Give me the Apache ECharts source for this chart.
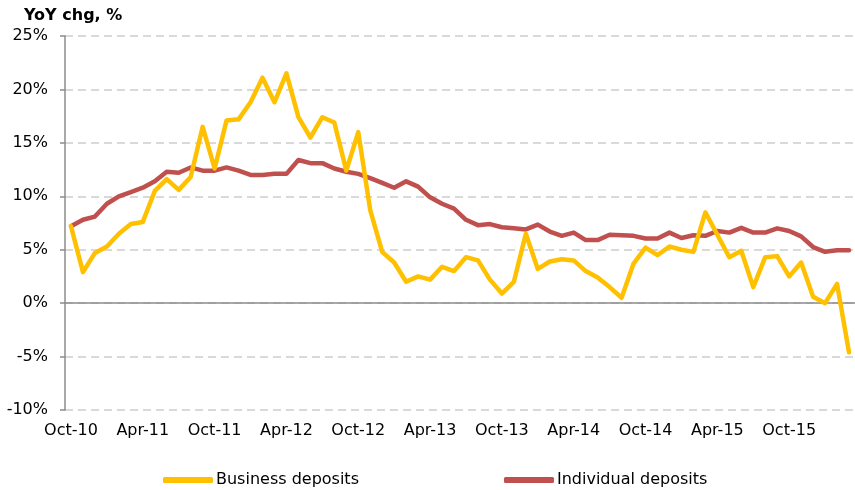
<!DOCTYPE html>
<html>
<head>
<meta charset="utf-8">
<script src="https://cdn.jsdelivr.net/npm/echarts@6/dist/echarts.min.js"></script>
<style>
  html, body { margin: 0; padding: 0; background: #fff; }
  #chart { width: 855px; height: 490px; }
</style>
</head>
<body>
<div id="chart"></div>
<script>
// months, Oct-10 .. Mar-16
const months = [
  'Oct-10', 'Nov-10', 'Dec-10', 'Jan-11', 'Feb-11', 'Mar-11', 'Apr-11', 'May-11', 'Jun-11', 'Jul-11', 'Aug-11', 'Sep-11',
  'Oct-11', 'Nov-11', 'Dec-11', 'Jan-12', 'Feb-12', 'Mar-12', 'Apr-12', 'May-12', 'Jun-12', 'Jul-12', 'Aug-12', 'Sep-12',
  'Oct-12', 'Nov-12', 'Dec-12', 'Jan-13', 'Feb-13', 'Mar-13', 'Apr-13', 'May-13', 'Jun-13', 'Jul-13', 'Aug-13', 'Sep-13',
  'Oct-13', 'Nov-13', 'Dec-13', 'Jan-14', 'Feb-14', 'Mar-14', 'Apr-14', 'May-14', 'Jun-14', 'Jul-14', 'Aug-14', 'Sep-14',
  'Oct-14', 'Nov-14', 'Dec-14', 'Jan-15', 'Feb-15', 'Mar-15', 'Apr-15', 'May-15', 'Jun-15', 'Jul-15', 'Aug-15', 'Sep-15',
  'Oct-15', 'Nov-15', 'Dec-15', 'Jan-16', 'Feb-16', 'Mar-16'
]

// YoY change, %
const businessDeposits = [
  7.2, 2.9, 4.7, 5.3, 6.5, 7.4, 7.6, 10.5, 11.6, 10.6, 11.8, 16.5,
  12.6, 17.1, 17.2, 18.8, 21.1, 18.8, 21.5, 17.4, 15.5, 17.4, 16.9, 12.4,
  16.0, 8.7, 4.8, 3.8, 2.0, 2.5, 2.2, 3.4, 3.0, 4.3, 4.0, 2.2,
  0.9, 2.0, 6.5, 3.2, 3.9, 4.1, 4.0, 3.0, 2.4, 1.5, 0.5, 3.7,
  5.2, 4.5, 5.3, 5.0, 4.8, 8.5, 6.4, 4.3, 4.9, 1.5, 4.3, 4.4,
  2.5, 3.8, 0.6, 0.0, 1.8, -4.6
]

const individualDeposits = [
  7.2, 7.8, 8.1, 9.3, 10.0, 10.4, 10.8, 11.4, 12.3, 12.2, 12.7, 12.4,
  12.4, 12.7, 12.4, 12.0, 12.0, 12.1, 12.1, 13.4, 13.1, 13.1, 12.6, 12.3,
  12.1, 11.7, 11.25, 10.8, 11.4, 10.9, 9.9, 9.3, 8.85, 7.8, 7.3, 7.4,
  7.1, 7.0, 6.9, 7.35, 6.7, 6.3, 6.6, 5.9, 5.9, 6.4, 6.35, 6.3,
  6.05, 6.05, 6.6, 6.1, 6.35, 6.3, 6.75, 6.6, 7.05, 6.6, 6.6, 7.0,
  6.75, 6.25, 5.25, 4.8, 4.95, 4.95
]

const font = 'DejaVu Sans'
const chart = echarts.init(document.getElementById('chart'))

const option = {
  backgroundColor: '#fff',
  animation: false,
  title: {
    text: 'YoY chg, %',
    left: 19,
    top: 3,
    textStyle: { fontFamily: font, fontSize: 16, fontWeight: 'bold', color: '#000' }
  },
  legend: {
    left: 158,
    top: 467,
    itemWidth: 50,
    itemHeight: 6,
    itemGap: 145,
    icon: 'roundRect',
    textStyle: { fontFamily: font, fontSize: 16, color: '#000', padding: [0, 0, 0, -2] },
    data: ['Business deposits', 'Individual deposits']
  },
  grid: {
    left: 65,
    right: -2,
    top: 36,
    bottom: 80
  },
  xAxis: {
    type: 'category',
    data: months,
    boundaryGap: true,
    axisLine: { onZero: true, lineStyle: { color: '#8c8c8c', width: 1.5 } },
    axisTick: { interval: 5, length: 5, lineStyle: { color: '#8c8c8c', width: 1.5 } },
    axisLabel: {
      interval: 5,
      margin: 13,
      fontFamily: font,
      fontSize: 16,
      color: '#000'
    },
    splitLine: { show: false }
  },
  yAxis: {
    type: 'value',
    min: -10,
    max: 25,
    interval: 5,
    axisLine: { show: true, lineStyle: { color: '#8c8c8c', width: 1.5 } },
    axisTick: { show: true, length: 5, lineStyle: { color: '#8c8c8c', width: 1.5 } },
    axisLabel: {
      formatter: '{value}%',
      margin: 17,
      fontFamily: font,
      fontSize: 16,
      color: '#000'
    },
    splitLine: {
      lineStyle: { color: '#d9d9d9', width: 2, type: [8, 5] }
    }
  },
  series: [
    {
      name: 'Business deposits',
      type: 'line',
      data: businessDeposits,
      showSymbol: false,
      symbol: 'none',
      color: '#ffc000',
      lineStyle: { width: 4.5, color: '#ffc000', cap: 'round', join: 'round' },
      z: 3
    },
    {
      name: 'Individual deposits',
      type: 'line',
      data: individualDeposits,
      showSymbol: false,
      symbol: 'none',
      color: '#c0504d',
      lineStyle: { width: 4.5, color: '#c0504d', cap: 'round', join: 'round' },
      z: 2
    }
  ]
}

chart.setOption(option)
</script>
</body>
</html>
